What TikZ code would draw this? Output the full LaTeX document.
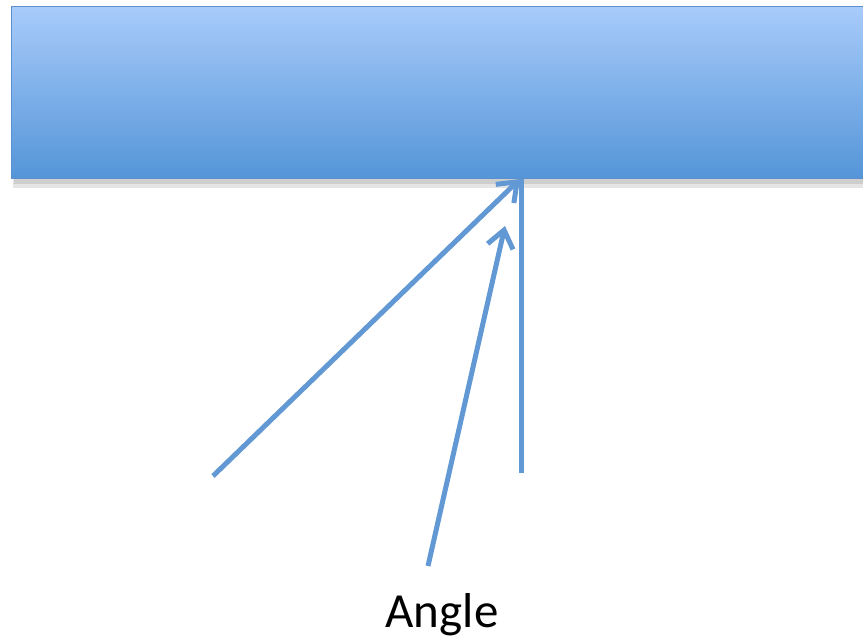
\documentclass[tikz,border=0pt]{standalone}
\usepackage{fontspec}
\setmainfont{Carlito}
\usetikzlibrary{arrows.meta}
\definecolor{lineblue}{RGB}{98,152,211}
\definecolor{topblue}{RGB}{168,203,250}
\definecolor{botblue}{RGB}{84,149,216}
\definecolor{edgeblue}{RGB}{92,143,205}
\tikzset{
  ray/.style={draw=lineblue, line width=5pt, line cap=butt},
  rayarrow/.style={ray, -{Straight Barb[length=17pt,width=26pt,line width=5pt]}},
  surface/.style={rectangle, inner sep=0pt, top color=topblue, bottom color=botblue, draw=edgeblue, line width=1pt}
}
\begin{document}
\begin{tikzpicture}[x=1pt,y=-1pt]
\useasboundingbox (0,0) rectangle (863,638);
\clip (0,0) rectangle (863,638);
\fill[black, opacity=0.10] (13,10) rectangle (880,188);
\fill[black, opacity=0.10] (14,10) rectangle (880,184);
\node[surface, anchor=north west, minimum width=880pt, minimum height=172pt] (surf) at (11,6) {};
\coordinate (hit) at (520,179);
\coordinate (hit2) at (505,226);
\coordinate (s1) at (213,476);
\coordinate (s2) at (428,566);
\coordinate (s3) at (521,473);
\coordinate (top3) at (521,179);
\draw[rayarrow] (s1) -- (hit);
\draw[rayarrow] (s2) -- (hit2);
\draw[ray] (s3) -- (top3);
\node[anchor=base, font=\fontsize{49}{54}\selectfont, inner sep=0pt] (lbl) at (442,627) {Angle};
\end{tikzpicture}
\end{document}
